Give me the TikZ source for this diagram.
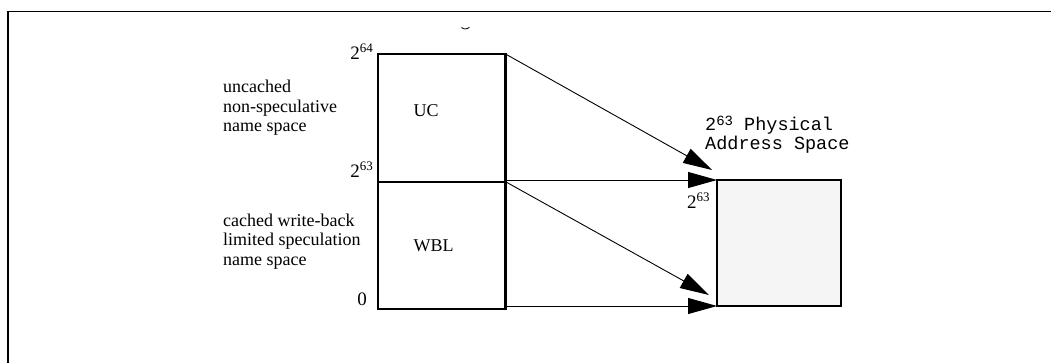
\documentclass[tikz,border=0pt]{standalone}
\usepackage{fontspec}
\setmainfont{Liberation Serif}
\newfontfamily\monofam{Liberation Mono}
\usetikzlibrary{arrows.meta}
\definecolor{physfill}{HTML}{F5F5F5}
\newcommand{\pwr}[1]{2\raisebox{7.3pt}{\fontsize{13}{13}\selectfont #1}}
\newcommand{\mpwr}[1]{2\raisebox{5pt}{\fontsize{14}{14}\selectfont #1}}
\begin{document}
\begin{tikzpicture}[x=1pt,y=-1pt,
  box/.style={draw,line width=2.2pt,inner sep=0pt,outer sep=0pt,minimum width=127.5pt},
  lbl/.style={font=\fontsize{18}{19.5}\selectfont,inner sep=0pt},
  num/.style={font=\fontsize{19}{19}\selectfont,inner sep=0pt},
  arr/.style={line width=0.9pt,-{Triangle[length=29pt,width=16pt]}},
  frameline/.style={line width=1.5pt}]
\useasboundingbox (0,0) rectangle (1051,363);
% frame
\coordinate (fTL) at (8,11.7);
\coordinate (fTR) at (1051,11.7);
\coordinate (fBL) at (8,363);
\draw[frameline] (fTR) -- (fTL) -- (fBL);
% small mark
\draw[line width=0.8pt] (461.5,27.3) .. controls (463,29.5) and (467,29.5) .. (469.5,27.3);
% boxes
\node[box,minimum height=127.7pt] (uc) at (441.75,117.85) {};
\node[box,minimum height=127.3pt] (wbl) at (441.75,245.35) {};
\node[box,fill=physfill,minimum width=124pt,minimum height=126pt] (phys) at (779,243) {};
% texts
\node[lbl,anchor=base west] (uctxt) at (413.5,117) {UC};
\node[lbl,anchor=base west] (wbltxt) at (413.5,251.7) {WBL};
\node[num,anchor=base east] (p64) at (373,60) {\pwr{64}};
\node[num,anchor=base east] (p63) at (373,178) {\pwr{63}};
\node[num,anchor=base east] (zero) at (367,305) {0};
\node[num,anchor=base west] (pp63) at (687,209) {\pwr{63}};
\node[lbl,anchor=north west,align=left] (ucdesc) at (223,80) {uncached\\non-speculative\\name space};
\node[lbl,anchor=north west,align=left] (wbldesc) at (223,213.5) {cached write-back\\limited speculation\\name space};
\node[anchor=north west,align=left,inner sep=0pt,font=\monofam\fontsize{18.5}{19}\selectfont] (physlbl) at (705,115.5) {\mpwr{63} Physical\\Address Space};
% arrows
\coordinate (t1) at (712,170);
\coordinate (t3) at (709,295);
\draw[arr] (uc.north east) -- (t1);
\draw[arr] (uc.east |- phys.north west) -- (phys.north west);
\draw[arr] (wbl.north east) -- (t3);
\draw[arr] (uc.east |- phys.south west) -- (phys.south west);
\end{tikzpicture}
\end{document}
